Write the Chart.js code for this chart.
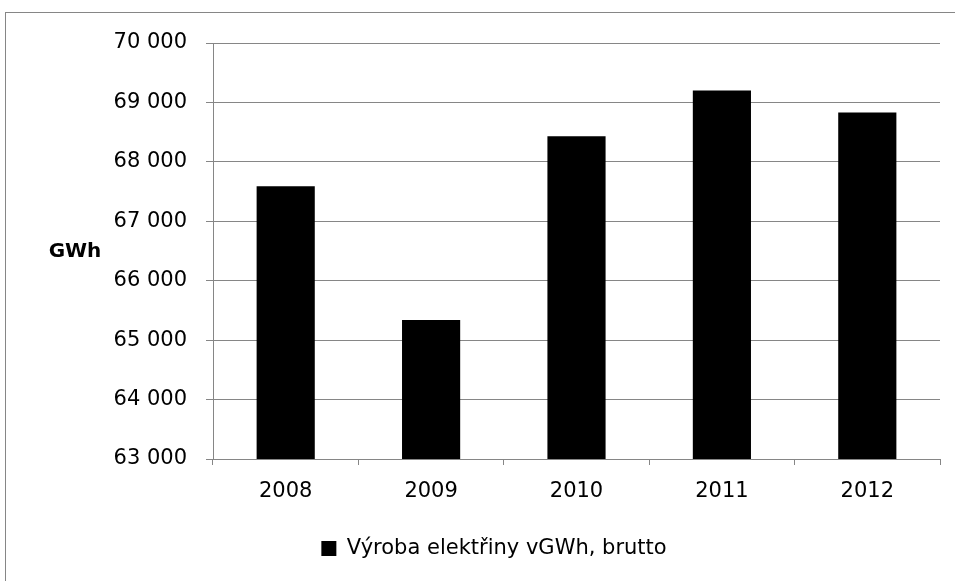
<!DOCTYPE html>
<html>
<head>
<meta charset="utf-8">
<script src="https://cdn.jsdelivr.net/npm/chart.js@4/dist/chart.umd.min.js"></script>
<style>
  html, body { margin: 0; padding: 0; background: #ffffff; }
  #wrap { width: 955px; height: 581px; position: relative; }
</style>
</head>
<body>
<div id="wrap"><canvas id="chart" width="955" height="581"></canvas></div>
<script>
// Gross electricity production by year
const years = ['2008', '2009', '2010', '2011', '2012'];
const production = [67590, 65340, 68430, 69200, 68830];
const seriesLabel = 'Výroba elektřiny vGWh, brutto';
const axisUnit = 'GWh';
const yMin = 63000;
const yMax = 70000;
const yStep = 1000;

const FONT = '"DejaVu Sans", sans-serif';
const GRID = '#868686';

function fmt(v) {
  return String(v).replace(/\B(?=(\d{3})+(?!\d))/g, ' ');
}

// Outer frame around the whole chart object
const framePlugin = {
  id: 'frame',
  beforeDraw(chart) {
    const ctx = chart.ctx;
    ctx.save();
    ctx.strokeStyle = '#868686';
    ctx.lineWidth = 1;
    ctx.strokeRect(5.5, 12.5, chart.width + 20, chart.height + 20);
    ctx.restore();
  }
};

// Horizontal unit label left of the value axis
const unitPlugin = {
  id: 'unitLabel',
  afterDraw(chart) {
    const ctx = chart.ctx;
    const a = chart.chartArea;
    ctx.save();
    ctx.font = 'bold 20px ' + FONT;
    ctx.fillStyle = '#000000';
    ctx.textAlign = 'center';
    ctx.textBaseline = 'middle';
    ctx.fillText(axisUnit, 75, (a.top + a.bottom) / 2 + 1);
    ctx.restore();
  }
};

new Chart(document.getElementById('chart'), {
  type: 'bar',
  data: {
    labels: years,
    datasets: [{
      label: seriesLabel,
      data: production,
      backgroundColor: '#000000',
      borderWidth: 0,
      categoryPercentage: 1.0,
      barPercentage: 0.4
    }]
  },
  options: {
    responsive: false,
    animation: false,
    devicePixelRatio: 1,
    layout: { padding: { top: 43, right: 15, bottom: 12, left: 48 } },
    plugins: {
      tooltip: { enabled: false },
      legend: {
        position: 'bottom',
        labels: {
          color: '#000000',
          font: { family: FONT, size: 21 },
          boxWidth: 15,
          boxHeight: 15,
          padding: 10
        }
      }
    },
    scales: {
      x: {
        grid: {
          offset: true,
          drawOnChartArea: false,
          color: GRID,
          tickLength: 6,
          tickColor: GRID
        },
        border: { color: GRID, width: 1 },
        ticks: {
          color: '#000000',
          font: { family: FONT, size: 21 },
          padding: 14,
          maxRotation: 0
        },
        afterFit(scale) {
          scale.height = 69;
          scale.paddingLeft = 0;
          scale.paddingRight = 0;
        }
      },
      y: {
        min: yMin,
        max: yMax,
        grid: {
          color: GRID,
          tickLength: 7,
          tickColor: GRID
        },
        border: { color: GRID, width: 1 },
        ticks: {
          stepSize: yStep,
          color: '#000000',
          font: { family: FONT, size: 21 },
          padding: 19,
          callback: (v) => fmt(v)
        },
        afterFit(scale) {
          scale.width = 165;
          scale.paddingTop = 0;
          scale.paddingBottom = 0;
        }
      }
    }
  },
  plugins: [framePlugin, unitPlugin]
});
</script>
</body>
</html>
